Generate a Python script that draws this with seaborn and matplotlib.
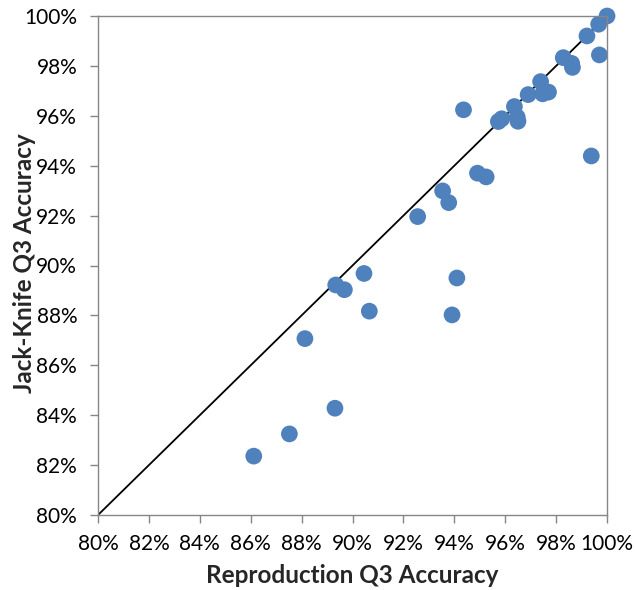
import matplotlib
matplotlib.use("Agg")
import matplotlib.pyplot as plt
import seaborn as sns
import pandas as pd
from matplotlib.ticker import PercentFormatter, MultipleLocator

sns.set_theme(style="white")
plt.rcParams['font.family'] = ['Lato', 'DejaVu Sans']

# reproduction (x) vs jack-knife (y) Q3 accuracy, in percent
reproduction = [100.0, 99.67, 99.21, 98.28, 98.61, 98.64, 99.70, 97.39, 96.90, 97.47,
                97.70, 94.36, 96.36, 95.86, 95.73, 96.47, 96.50, 99.38, 94.91, 95.25,
                93.54, 93.78, 92.56, 94.10, 89.34, 89.68, 90.45, 90.66, 88.13, 89.31,
                87.52, 86.12, 93.91]
jackknife = [100.0, 99.67, 99.20, 98.33, 98.10, 97.94, 98.44, 97.37, 96.85, 96.88,
             96.95, 96.24, 96.37, 95.88, 95.77, 95.95, 95.78, 94.39, 93.70, 93.55,
             92.99, 92.52, 91.96, 89.50, 89.22, 89.03, 89.68, 88.17, 87.07, 84.28,
             83.25, 82.36, 88.02]
diag = [80, 100]

df = pd.DataFrame({'repro': reproduction, 'jk': jackknife})

fig = plt.figure(figsize=(6.35, 5.9), dpi=100)
ax = fig.add_axes([0.1543, 0.1271, 0.8017, 0.8458])

ax.plot(diag, diag, color='black', lw=1.3, zorder=1)
sns.scatterplot(data=df, x='repro', y='jk', ax=ax, s=145, color='#4F81BD',
                edgecolor='none', zorder=2, clip_on=False)

ax.set_xlim(80, 100)
ax.set_ylim(80, 100)
ax.xaxis.set_major_locator(MultipleLocator(2))
ax.yaxis.set_major_locator(MultipleLocator(2))
ax.xaxis.set_major_formatter(PercentFormatter(decimals=0))
ax.yaxis.set_major_formatter(PercentFormatter(decimals=0))

for s in ax.spines.values():
    s.set_color('#868686')
    s.set_linewidth(1.0)
ax.tick_params(axis='both', direction='out', length=6, width=1.0, color='#868686',
               labelsize=15, labelcolor='black')
ax.tick_params(axis='x', bottom=True, pad=8)
ax.tick_params(axis='y', left=True, pad=9)

ax.set_xlabel('Reproduction Q3 Accuracy', fontsize=17.5, fontweight='bold', va='center')
ax.set_ylabel('Jack-Knife Q3 Accuracy', fontsize=17.5, fontweight='bold', va='center')
ax.xaxis.set_label_coords(0.5, -0.122)
ax.yaxis.set_label_coords(-0.145, 0.505)

fig.savefig('out.png', dpi=100)
